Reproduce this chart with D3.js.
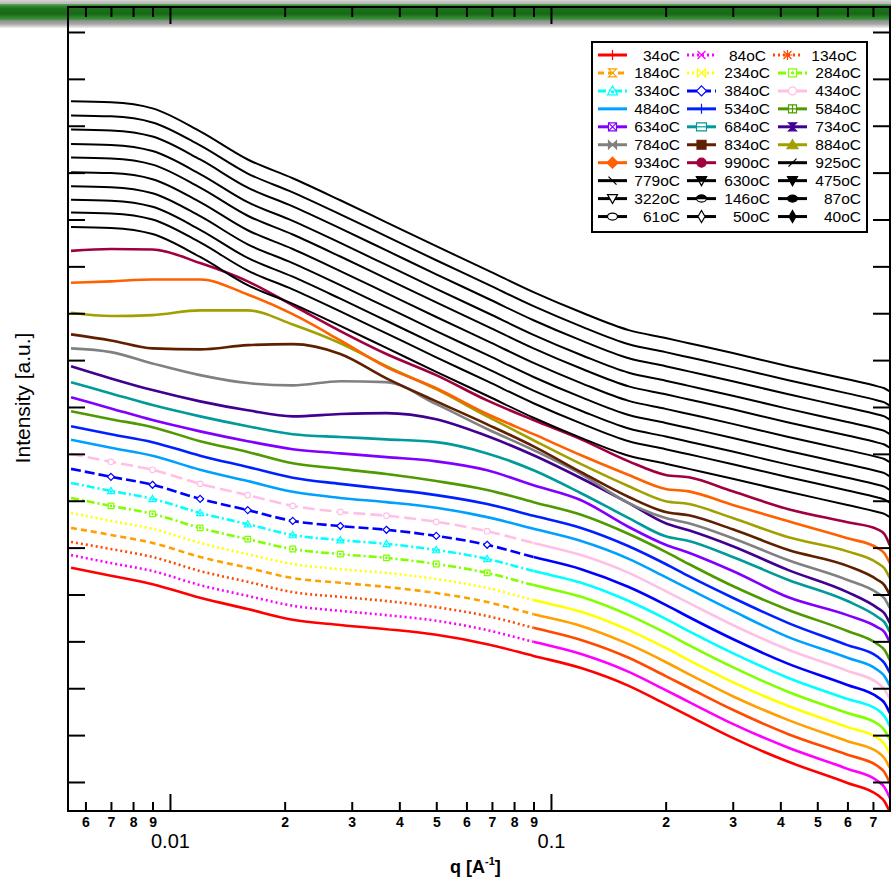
<!DOCTYPE html>
<html>
<head>
<meta charset="utf-8">
<script src="https://cdn.jsdelivr.net/npm/d3@7"></script>
<style>
  body { margin: 0; background: #fff; }
  svg { display: block; }
  text { font-family: "Liberation Sans", Arial, sans-serif; }
</style>
</head>
<body>
<svg id="chart" width="891" height="883"></svg>
<script>
// Scattering vector q (1/Angstrom) shared by every curve
const q = [0.0055, 0.007, 0.009, 0.012, 0.016, 0.021, 0.028, 0.037, 0.05, 0.068, 0.09,
           0.12, 0.16, 0.2, 0.23, 0.3, 0.42, 0.6, 0.72, 0.75, 0.775];

// log10 of stacked intensity (a.u.), one array per temperature
const i34  = [4.57, 4.40, 4.22, 3.93, 3.69, 3.46, 3.35, 3.26, 3.14, 2.94, 2.69, 2.43, 2.05, 1.66, 1.41, 0.94, 0.43, -0.02, -0.28, -0.41, -0.64];
const i84  = [4.84, 4.67, 4.50, 4.20, 3.97, 3.76, 3.65, 3.56, 3.44, 3.24, 2.99, 2.73, 2.35, 1.96, 1.71, 1.24, 0.73, 0.28, 0.02, -0.11, -0.34];
const i134 = [5.12, 4.97, 4.80, 4.50, 4.27, 4.05, 3.95, 3.86, 3.73, 3.54, 3.29, 3.03, 2.65, 2.26, 2.01, 1.54, 1.02, 0.58, 0.34, 0.21, -0.02];
const i184 = [5.42, 5.27, 5.10, 4.80, 4.57, 4.35, 4.25, 4.16, 4.03, 3.84, 3.58, 3.33, 2.94, 2.56, 2.30, 1.83, 1.32, 0.87, 0.64, 0.51, 0.30];
const i234 = [5.74, 5.57, 5.40, 5.10, 4.86, 4.65, 4.54, 4.46, 4.33, 4.14, 3.88, 3.63, 3.24, 2.86, 2.60, 2.13, 1.62, 1.17, 0.94, 0.81, 0.60];
const i284 = [6.06, 5.89, 5.72, 5.42, 5.18, 4.97, 4.86, 4.78, 4.65, 4.46, 4.20, 3.95, 3.56, 3.18, 2.92, 2.45, 1.92, 1.47, 1.24, 1.11, 0.90];
const i334 = [6.38, 6.21, 6.04, 5.74, 5.50, 5.27, 5.16, 5.08, 4.95, 4.76, 4.50, 4.25, 3.86, 3.48, 3.22, 2.75, 2.22, 1.77, 1.54, 1.41, 1.19];
const i384 = [6.68, 6.51, 6.34, 6.04, 5.80, 5.57, 5.46, 5.38, 5.25, 5.06, 4.80, 4.54, 4.16, 3.78, 3.52, 3.05, 2.52, 2.07, 1.81, 1.69, 1.47];
const i434 = [7.00, 6.83, 6.66, 6.36, 6.12, 5.89, 5.76, 5.68, 5.55, 5.35, 5.10, 4.84, 4.46, 4.07, 3.82, 3.35, 2.82, 2.37, 2.11, 1.98, 1.77];
const i484 = [7.30, 7.13, 6.96, 6.66, 6.42, 6.19, 6.06, 5.97, 5.85, 5.65, 5.40, 5.14, 4.76, 4.37, 4.12, 3.65, 3.09, 2.65, 2.39, 2.26, 2.05];
const i534 = [7.59, 7.42, 7.25, 6.96, 6.72, 6.49, 6.36, 6.25, 6.12, 5.93, 5.68, 5.42, 5.03, 4.65, 4.39, 3.93, 3.39, 2.92, 2.67, 2.54, 2.33];
const i584 = [7.91, 7.74, 7.57, 7.27, 7.04, 6.80, 6.68, 6.57, 6.42, 6.23, 5.97, 5.70, 5.29, 4.91, 4.65, 4.18, 3.67, 3.22, 2.94, 2.82, 2.60];
const i634 = [8.21, 7.97, 7.72, 7.48, 7.27, 7.10, 7.01, 6.93, 6.84, 6.65, 6.33, 6.01, 5.44, 5.06, 4.89, 4.50, 3.94, 3.56, 3.30, 3.20, 2.98];
const i684 = [8.53, 8.29, 8.04, 7.80, 7.59, 7.42, 7.36, 7.31, 7.25, 7.01, 6.65, 6.16, 5.63, 5.24, 5.14, 4.80, 4.31, 3.86, 3.52, 3.41, 3.20];
const i734 = [8.87, 8.61, 8.36, 8.12, 7.93, 7.80, 7.85, 7.87, 7.74, 7.38, 6.97, 6.48, 5.95, 5.52, 5.37, 5.03, 4.52, 4.05, 3.71, 3.60, 3.39];
const i784 = [9.25, 9.17, 8.93, 8.68, 8.51, 8.46, 8.55, 8.53, 8.06, 7.53, 7.08, 6.57, 5.95, 5.63, 5.52, 5.20, 4.73, 4.31, 4.03, 3.92, 3.71];
const i834 = [9.55, 9.42, 9.25, 9.23, 9.32, 9.34, 9.13, 8.61, 8.12, 7.63, 7.16, 6.61, 6.08, 5.76, 5.69, 5.39, 4.95, 4.61, 4.31, 4.20, 3.99];
const i884 = [10.01, 9.94, 9.96, 10.06, 10.06, 9.76, 9.36, 8.87, 8.38, 7.80, 7.29, 6.78, 6.31, 5.99, 5.93, 5.63, 5.22, 4.92, 4.67, 4.56, 4.35];
const i934 = [10.65, 10.68, 10.72, 10.72, 10.40, 9.98, 9.42, 8.85, 8.40, 7.85, 7.42, 6.97, 6.55, 6.25, 6.20, 5.91, 5.56, 5.20, 4.99, 4.88, 4.67];
const i990 = [11.33, 11.37, 11.36, 11.07, 10.68, 10.17, 9.62, 9.13, 8.68, 8.14, 7.72, 7.31, 6.84, 6.55, 6.50, 6.20, 5.82, 5.54, 5.39, 5.29, 5.05];
const i925 = [11.84, 11.82, 11.69, 11.20, 10.60, 10.20, 9.73, 9.26, 8.75, 8.24, 7.77, 7.34, 6.96, 6.79, 6.68, 6.47, 6.19, 5.91, 5.76, 5.72, 5.65];
const i779 = [12.15, 12.13, 12.00, 11.51, 10.91, 10.51, 10.04, 9.57, 9.06, 8.55, 8.08, 7.65, 7.27, 7.10, 6.99, 6.78, 6.50, 6.22, 6.07, 6.03, 5.96];
const i630 = [12.42, 12.40, 12.27, 11.78, 11.18, 10.78, 10.31, 9.84, 9.33, 8.82, 8.35, 7.92, 7.54, 7.37, 7.26, 7.05, 6.77, 6.49, 6.34, 6.30, 6.23];
const i475 = [12.71, 12.69, 12.56, 12.07, 11.47, 11.07, 10.60, 10.13, 9.62, 9.11, 8.64, 8.21, 7.83, 7.66, 7.55, 7.34, 7.06, 6.78, 6.63, 6.59, 6.52];
const i322 = [13.01, 12.99, 12.86, 12.37, 11.77, 11.37, 10.90, 10.43, 9.92, 9.41, 8.94, 8.51, 8.13, 7.96, 7.85, 7.64, 7.36, 7.08, 6.93, 6.89, 6.82];
const i146 = [13.32, 13.30, 13.17, 12.68, 12.08, 11.68, 11.21, 10.74, 10.23, 9.72, 9.25, 8.82, 8.44, 8.27, 8.16, 7.95, 7.67, 7.39, 7.24, 7.20, 7.13];
const i87  = [13.61, 13.59, 13.46, 12.97, 12.37, 11.97, 11.50, 11.03, 10.52, 10.01, 9.54, 9.11, 8.73, 8.56, 8.45, 8.24, 7.96, 7.68, 7.53, 7.49, 7.42];
const i61  = [13.92, 13.90, 13.77, 13.28, 12.68, 12.28, 11.81, 11.34, 10.83, 10.32, 9.85, 9.42, 9.04, 8.87, 8.76, 8.55, 8.27, 7.99, 7.84, 7.80, 7.73];
const i50  = [14.22, 14.20, 14.07, 13.58, 12.98, 12.58, 12.11, 11.64, 11.13, 10.62, 10.15, 9.72, 9.34, 9.17, 9.06, 8.85, 8.57, 8.29, 8.14, 8.10, 8.03];
const i40  = [14.52, 14.50, 14.37, 13.88, 13.28, 12.88, 12.41, 11.94, 11.43, 10.92, 10.45, 10.02, 9.64, 9.47, 9.36, 9.15, 8.87, 8.59, 8.44, 8.40, 8.33];

const labels = ["34oC", "84oC", "134oC", "184oC", "234oC", "284oC", "334oC", "384oC", "434oC",
                "484oC", "534oC", "584oC", "634oC", "684oC", "734oC", "784oC", "834oC", "884oC",
                "934oC", "990oC", "925oC", "779oC", "630oC", "475oC", "322oC", "146oC", "87oC",
                "61oC", "50oC", "40oC"];
const intensities = [i34, i84, i134, i184, i234, i284, i334, i384, i434, i484, i534, i584, i634,
                     i684, i734, i784, i834, i884, i934, i990, i925, i779, i630, i475, i322, i146,
                     i87, i61, i50, i40];

// Axis tick values
const qMinorTicks = [0.006, 0.007, 0.008, 0.009, 0.02, 0.03, 0.04, 0.05, 0.06, 0.07, 0.08, 0.09,
                     0.2, 0.3, 0.4, 0.5, 0.6, 0.7];
const qMinorLabels = ["6", "7", "8", "9", "2", "3", "4", "5", "6", "7", "8", "9", "2", "3", "4", "5", "6", "7"];
const qMajorTicks = [0.01, 0.1];
const qMajorLabels = ["0.01", "0.1"];
const decades = [0, 1, 2, 3, 4, 5, 6, 7, 8, 9, 10, 11, 12, 13, 14, 15, 16];

// Trace styles
const colors = ["#ff0000", "#ff00ff", "#ff4a00", "#ffa000", "#ffff00", "#80ff00", "#00ffff", "#0000ff",
                "#ffc0e6", "#00a0ff", "#0020ff", "#4e9a00", "#8000ff", "#009a9a", "#400090", "#808080",
                "#602000", "#a0a000", "#ff6000", "#a00040",
                "#000", "#000", "#000", "#000", "#000", "#000", "#000", "#000", "#000", "#000"];
const dashes = [null, "2,3", "2,3", "6,4", "2,3", "8,3,2,3", "8,3,2,3", "10,4", "12,5", null,
                null, null, null, null, null, null, null, null, null, null,
                null, null, null, null, null, null, null, null, null, null];
const markers = ["plus", "cross", "star", "hourglass", "bowtie", "squareDot", "triangleDot", "diamond",
                 "circle", "none", "plus", "squarePlus", "squareCross", "rectLine", "hourglassFill",
                 "bowtieFill", "squareFill", "triangleFill", "diamondFill", "circleFill", "slash",
                 "backslash", "triDownHalf", "triDownFill", "triDown", "ellipseHalf", "ellipseFill",
                 "ellipse", "diamondTall", "diamondTallFill"];
// Traces whose open markers stay visible along the sparse low-q points
const markedTraces = [5, 6, 7, 8];

const svg = d3.select("#chart");
const L = 68, R = 890, T = 7, B = 811;

// Toolbar strip across the top
const defs = svg.append("defs");
const grad = defs.append("linearGradient").attr("id", "bar").attr("x1", 0).attr("x2", 0).attr("y1", 0).attr("y2", 1);
[[0, "#d4d4d4"], [0.13, "#b8b8b8"], [0.17, "#3f9b3f"], [0.3, "#1c721c"], [0.5, "#176817"],
 [0.62, "#2b8a2b"], [0.68, "#3d8d3d"], [0.74, "#8c948c"], [0.86, "#a8a8a8"], [1, "#f2f2f2"]]
  .forEach(([o, c]) => grad.append("stop").attr("offset", o).attr("stop-color", c));
svg.append("rect").attr("x", 0).attr("y", 0).attr("width", 891).attr("height", 28).attr("fill", "url(#bar)");

defs.append("clipPath").attr("id", "plotArea")
  .append("rect").attr("x", L).attr("y", T).attr("width", R - L).attr("height", B - T);

const x = d3.scaleLog().domain([0.0054, 0.776]).range([L, R]);
const y = d3.scaleLinear().domain([-0.619, 16.533]).range([B, T]);

// Dashed traces look broken at low q and continuous where points crowd together
const qSolidFrom = 0.09;
defs.append("clipPath").attr("id", "lowQ")
  .append("rect").attr("x", L).attr("y", T).attr("width", x(qSolidFrom) - L).attr("height", B - T);
defs.append("clipPath").attr("id", "highQ")
  .append("rect").attr("x", x(qSolidFrom)).attr("y", T).attr("width", R - x(qSolidFrom)).attr("height", B - T);

const line = d3.line()
  .x((d, i) => x(q[i]))
  .y(d => y(d))
  .curve(d3.curveMonotoneX);

function drawMarker(g, name, cx, cy, color, s = 1) {
  const m = g.append("g").attr("transform", `translate(${cx},${cy}) scale(${s})`)
    .attr("stroke", color).attr("stroke-width", 1.2 / s).attr("fill", "#fff");
  const p = d => m.append("path").attr("d", d);
  switch (name) {
    case "plus": p("M-5,0H5M0,-5V5"); break;
    case "cross": p("M-4,-4L4,4M-4,4L4,-4"); break;
    case "star": p("M-5,0H5M0,-5V5M-4,-4L4,4M-4,4L4,-4"); break;
    case "hourglass": p("M-4,-4H4L-4,4H4Z"); break;
    case "bowtie": p("M-4,-4L4,4V-4L-4,4Z"); break;
    case "squareDot": p("M-4,-4H4V4H-4Z"); m.append("circle").attr("r", 1).attr("fill", color); break;
    case "triangleDot": p("M0,-5L5,4H-5Z"); m.append("circle").attr("cy", 1).attr("r", 1).attr("fill", color); break;
    case "diamond": p("M0,-5L5,0L0,5L-5,0Z"); break;
    case "circle": m.append("circle").attr("r", 4); break;
    case "squarePlus": p("M-4,-4H4V4H-4Z"); p("M-4,0H4M0,-4V4"); break;
    case "squareCross": p("M-4,-4H4V4H-4Z"); p("M-4,-4L4,4M-4,4L4,-4"); break;
    case "rectLine": p("M-5,-4H5V4H-5Z"); p("M-5,0H5"); break;
    case "hourglassFill": p("M-4,-4H4L-4,4H4Z").attr("fill", color); break;
    case "bowtieFill": p("M-4,-4L4,4V-4L-4,4Z").attr("fill", color); break;
    case "squareFill": p("M-4.5,-4.5H4.5V4.5H-4.5Z").attr("fill", color); break;
    case "triangleFill": p("M0,-5L5.5,4H-5.5Z").attr("fill", color); break;
    case "diamondFill": p("M0,-5.5L5.5,0L0,5.5L-5.5,0Z").attr("fill", color); break;
    case "circleFill": m.append("circle").attr("r", 4.5).attr("fill", color); break;
    case "slash": p("M-4,4L4,-4"); break;
    case "backslash": p("M-4,-4L4,4"); break;
    case "triDownHalf": p("M-5,-4H5L0,5Z"); p("M-5,-4H5L2.5,0.5H-2.5Z").attr("fill", color); break;
    case "triDownFill": p("M-5,-4H5L0,5Z").attr("fill", color); break;
    case "triDown": p("M-5,-4H5L0,5Z"); break;
    case "ellipseHalf": m.append("ellipse").attr("rx", 5).attr("ry", 3.5);
      p("M-5,0A5,3.5 0 0 1 5,0Z").attr("fill", color); break;
    case "ellipseFill": m.append("ellipse").attr("rx", 5).attr("ry", 3.5).attr("fill", color); break;
    case "ellipse": m.append("ellipse").attr("rx", 5).attr("ry", 3.5); break;
    case "diamondTall": p("M0,-6L3.5,0L0,6L-3.5,0Z"); break;
    case "diamondTallFill": p("M0,-6L3.5,0L0,6L-3.5,0Z").attr("fill", color); break;
    default: break;
  }
}

const curves = svg.append("g");
intensities.forEach((vals, k) => {
  const w = colors[k] === "#000" ? 2 : 2.6;
  if (dashes[k]) {
    curves.append("path").attr("clip-path", "url(#lowQ)")
      .attr("d", line(vals)).attr("fill", "none").attr("stroke", colors[k])
      .attr("stroke-width", w).attr("stroke-dasharray", dashes[k]);
    curves.append("path").attr("clip-path", "url(#highQ)")
      .attr("d", line(vals)).attr("fill", "none").attr("stroke", colors[k]).attr("stroke-width", w);
  } else {
    curves.append("path").attr("clip-path", "url(#plotArea)")
      .attr("d", line(vals)).attr("fill", "none").attr("stroke", colors[k]).attr("stroke-width", w);
  }
  if (markedTraces.includes(k)) {
    vals.forEach((v, i) => {
      if (q[i] > 0.006 && q[i] < qSolidFrom) drawMarker(curves, markers[k], x(q[i]), y(v), colors[k], 0.7);
    });
  }
});

// Axes: ticks point into the plot on all four sides
function styleAxis(g) {
  g.select(".domain").remove();
  g.selectAll(".tick line").attr("stroke", "#000").attr("stroke-width", 2);
}
const bottomMinor = svg.append("g").attr("transform", `translate(0,${B})`)
  .call(d3.axisBottom(x).tickValues(qMinorTicks).tickSize(-9).tickPadding(6)
    .tickFormat((d, i) => qMinorLabels[i]));
styleAxis(bottomMinor);
bottomMinor.selectAll("text").attr("font-size", 14).attr("font-weight", "bold").attr("fill", "#000")
  .attr("font-family", "Liberation Sans, Arial, sans-serif");
const bottomMajor = svg.append("g").attr("transform", `translate(0,${B})`)
  .call(d3.axisBottom(x).tickValues(qMajorTicks).tickSize(-17).tickPadding(23)
    .tickFormat((d, i) => qMajorLabels[i]));
styleAxis(bottomMajor);
bottomMajor.selectAll("text").attr("font-size", 20).attr("fill", "#000")
  .attr("font-family", "Liberation Sans, Arial, sans-serif");

const topMinor = svg.append("g").attr("transform", `translate(0,${T})`)
  .call(d3.axisTop(x).tickValues(qMinorTicks).tickSize(-10).tickFormat(""));
styleAxis(topMinor);
const topMajor = svg.append("g").attr("transform", `translate(0,${T})`)
  .call(d3.axisTop(x).tickValues(qMajorTicks).tickSize(-17).tickFormat(""));
styleAxis(topMajor);

const leftAxis = svg.append("g").attr("transform", `translate(${L},0)`)
  .call(d3.axisLeft(y).tickValues(decades).tickSize(-17).tickFormat(""));
styleAxis(leftAxis);
const rightAxis = svg.append("g").attr("transform", `translate(${R},0)`)
  .call(d3.axisRight(y).tickValues(decades).tickSize(-17).tickFormat(""));
styleAxis(rightAxis);

// Frame
svg.append("path")
  .attr("d", `M${L},${T}H${R}V${B}H${L}Z`)
  .attr("fill", "none").attr("stroke", "#000").attr("stroke-width", 2);

// Axis titles
svg.append("text").attr("transform", "translate(30,398) rotate(-90)")
  .attr("text-anchor", "middle").attr("font-size", 21).attr("fill", "#000")
  .text("Intensity [a.u.]");
const xt = svg.append("text").attr("x", 450).attr("y", 873)
  .attr("font-size", 18).attr("font-weight", "bold").attr("fill", "#000");
xt.append("tspan").text("q [A");
xt.append("tspan").attr("font-size", 11).attr("dy", -8).text("-1");
xt.append("tspan").attr("dy", 8).text("]");

// Legend
const legend = svg.append("g");
legend.append("rect").attr("x", 592).attr("y", 42).attr("width", 275).attr("height", 190)
  .attr("fill", "#fff").attr("stroke", "#000").attr("stroke-width", 2);

const colLine = [[598, 627], [687, 716], [778, 807]];
const colText = [680, 770, 861];
labels.forEach((lab, k) => {
  const r = Math.floor(k / 3), c = k % 3;
  const cy = 55 + 17.95 * r;
  let [x1, x2] = colLine[c];
  let tx = colText[c];
  if (r === 0 && c > 0) { tx -= 4; if (c === 2) { x1 -= 5; x2 -= 5; } }
  legend.append("line").attr("x1", x1).attr("x2", x2).attr("y1", cy).attr("y2", cy)
    .attr("stroke", colors[k]).attr("stroke-width", 3)
    .attr("stroke-dasharray", dashes[k] ? dashes[k] : null);
  drawMarker(legend, markers[k], (x1 + x2) / 2, cy, colors[k]);
  legend.append("text").attr("x", tx).attr("y", cy + 5.5).attr("text-anchor", "end")
    .attr("font-size", 15.5).attr("fill", "#000").text(lab);
});
</script>
</body>
</html>
